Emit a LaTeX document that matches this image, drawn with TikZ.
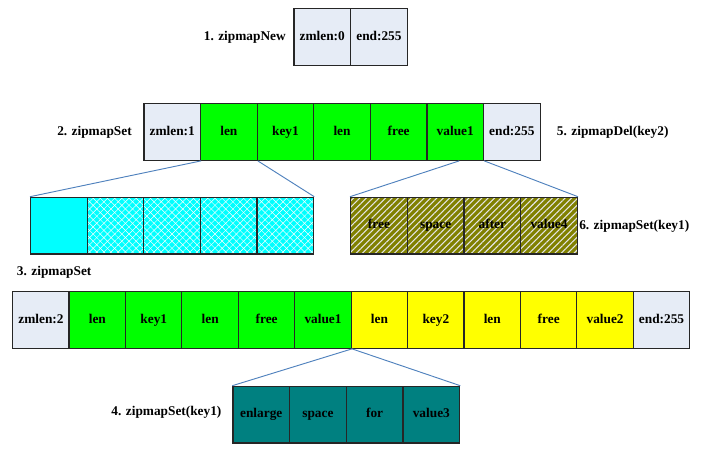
\documentclass[tikz,border=0pt]{standalone}
\usepackage{fontspec}
\setmainfont{Liberation Serif}
\usetikzlibrary{patterns.meta}
\definecolor{pale}{HTML}{E6ECF6}
\definecolor{zipblue}{HTML}{4F81BD}
\definecolor{greenbox}{RGB}{0,255,0}
\definecolor{yellowbox}{RGB}{255,255,0}
\definecolor{cyanbox}{RGB}{0,255,255}
\definecolor{olivebox}{HTML}{808000}
\definecolor{tealbox}{HTML}{008080}

\begin{document}
\begin{tikzpicture}[x=0.75pt,y=-0.75pt,
	cell/.style={draw=black!85,line width=0.9pt,anchor=north west,inner sep=0pt,
		minimum width=42.5pt,minimum height=42.5pt,text height=7pt,text depth=2pt,font=\bfseries},
	lbl/.style={font=\bfseries,anchor=west,inner sep=0pt},
	link/.style={zipblue,line width=0.7pt},
	cross/.style={postaction={pattern={Lines[angle=45,distance=3.8pt,line width=0.35pt]},pattern color=white},
		postaction={pattern={Lines[angle=-45,distance=3.8pt,line width=0.35pt]},pattern color=white},
		postaction={draw=black!85,line width=0.9pt}},
	stripe/.style={postaction={pattern={Lines[angle=45,distance=3.4pt,line width=0.8pt]},pattern color=white!80!gray},
		postaction={draw=black!85,line width=0.9pt}}]
		\useasboundingbox (0,0) rectangle (710,449);
		\node[cell,fill=pale] (n-1) at (293.3,8.3) {zmlen:0};
		\node[cell,fill=pale] (n-2) at (350,8.3) {end:255};
		\node[lbl,anchor=east] (l1) at (286,37) {1. zipmapNew};
		\foreach \t/\c [count=\i] in {zmlen:1/pale,len/greenbox,key1/greenbox,len/greenbox,free/greenbox,value1/greenbox,end:255/pale}
			\node[cell,fill=\c] (s-\i) at ({143.3+(\i-1)*56.6},103) {\t};
		\node[lbl] (l2) at (57,132) {2. zipmapSet};
		\node[lbl] (l5) at (556.7,132) {5. zipmapDel(key2)};
		\node[cell,fill=cyanbox] (c-1) at (30,196.7) {};
		\foreach \i in {2,...,5}
			\node[cell,fill=cyanbox,cross] (c-\i) at ({30+(\i-1)*56.6},196.7) {};
		\draw[link] (s-1.south east)--(c-1.north west);
		\draw[link] (s-2.south east)--(c-5.north east);
		\foreach \t [count=\i] in {free,space,after,value4}
			\node[cell,fill=olivebox,stripe] (d-\i) at ({350+(\i-1)*56.7},196.7) {\t};
		\draw[link] ([xshift=3pt]s-6.south)--(d-1.north west);
		\draw[link] (s-6.south east)--(d-4.north east);
		\node[lbl] (l6) at (579,226) {6. zipmapSet(key1)};
		\node[lbl] (l3) at (16.7,272) {3. zipmapSet};
		\foreach \t/\c [count=\i] in {zmlen:2/pale,len/greenbox,key1/greenbox,len/greenbox,free/greenbox,value1/greenbox,len/yellowbox,key2/yellowbox,len/yellowbox,free/yellowbox,value2/yellowbox,end:255/pale}
			\node[cell,fill=\c] (t-\i) at ({12+(\i-1)*56.42},291) {\t};
		\foreach \t [count=\i] in {enlarge,space,for,value3}
			\node[cell,fill=tealbox] (e-\i) at ({232.3+(\i-1)*56.7},385.7) {\t};
		\draw[link] (t-6.south east)--(e-1.north west);
		\draw[link] (t-6.south east)--(e-4.north east);
		\node[lbl,anchor=east] (l4) at (221.7,412) {4. zipmapSet(key1)};
\end{tikzpicture}
\end{document}
